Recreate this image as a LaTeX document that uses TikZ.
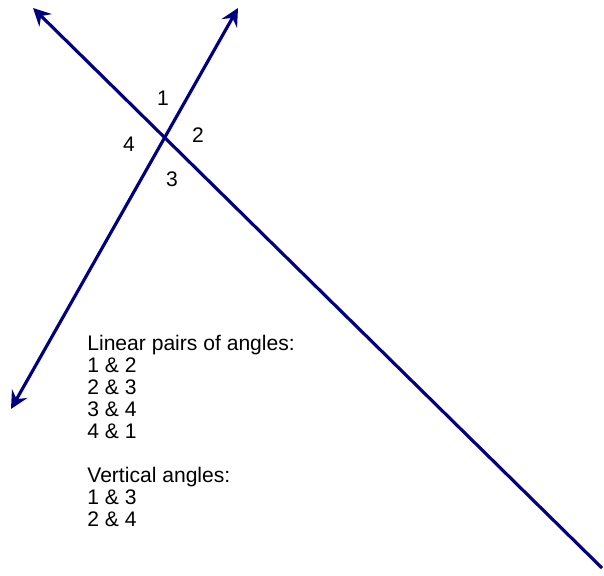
\documentclass[tikz,border=0pt]{standalone}
\usepackage{fontspec}
\setmainfont{Liberation Sans}
\usepackage{tikz}
\usetikzlibrary{arrows.meta, positioning}

\definecolor{linenavy}{RGB}{0,0,128}

\begin{document}
\begin{tikzpicture}[
  x=0.02cm, y=-0.02cm,
  >={Stealth[length=10pt, width=10pt, inset=3.5pt]},
  ln/.style={draw=linenavy, line width=1.8pt},
  num/.style={font=\fontsize{12}{12.5}\selectfont, inner sep=0pt},
  txt/.style={font=\fontsize{12}{12.5}\selectfont, align=left, inner sep=0pt, anchor=north west},
]
\useasboundingbox (0,0) rectangle (604,575);

%% Line ends
\coordinate (a1) at (33,8);
\coordinate (a2) at (602,568);
\coordinate (b1) at (238,8);
\coordinate (b2) at (11,409);

%% Lines
\draw[ln, <-] (a1) -- (a2);
\draw[ln, <->] (b1) -- (b2);

%% Angle numbers
\node[num] (n1) at (163,98)  {1};
\node[num] (n2) at (198,135) {2};
\node[num] (n3) at (172,179) {3};
\node[num] (n4) at (129,144) {4};

%% Notes
\node[txt] (notes) at (87,335) {Linear pairs of angles:\\
1 \& 2\\
2 \& 3\\
3 \& 4\\
4 \& 1\\[12.5pt]
Vertical angles:\\
1 \& 3\\
2 \& 4};
\end{tikzpicture}
\end{document}
